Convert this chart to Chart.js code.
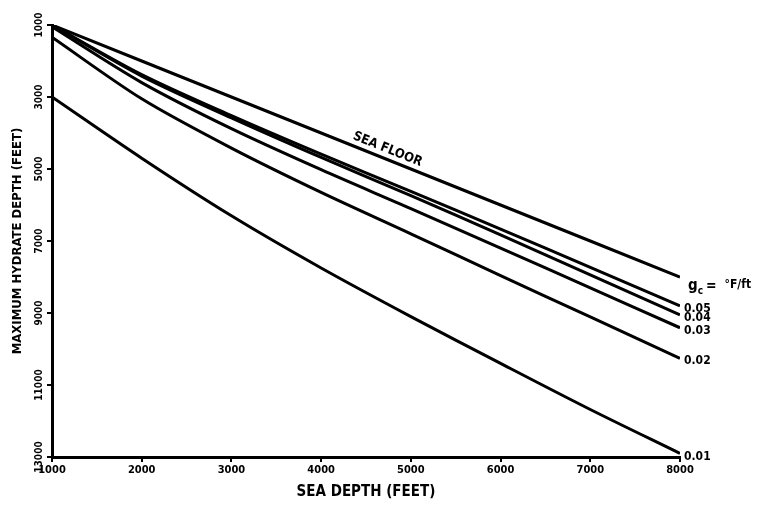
<!DOCTYPE html>
<html>
<head>
<meta charset="utf-8">
<script src="https://cdn.jsdelivr.net/npm/chart.js@4.4.1/dist/chart.umd.min.js"></script>
<style>
  html, body { margin: 0; padding: 0; background: #ffffff; }
  #wrap { width: 764px; height: 511px; }
</style>
</head>
<body>
<div id="wrap"><canvas id="c" width="764" height="511"></canvas></div>
<script>
// ---- data ----
const seaDepth = [1000, 2000, 3000, 4000, 5000, 6000, 7000, 8000];
const seaFloor = [1000, 2000, 3000, 4000, 5000, 6000, 7000, 8000];
const grad005  = [1000, 2380, 3520, 4590, 5620, 6670, 7730, 8800];
const grad004  = [1000, 2420, 3580, 4680, 5740, 6830, 7940, 9050];
const grad003  = [1050, 2600, 3880, 5020, 6100, 7200, 8300, 9410];
const grad002  = [1340, 3050, 4420, 5650, 6800, 7960, 9110, 10260];
const grad001  = [3000, 4700, 6300, 7750, 9100, 10400, 11680, 12900];
const lineLabels = ['', '0.05', '0.04', '0.03', '0.02', '0.01'];
const xTicks = [1000, 2000, 3000, 4000, 5000, 6000, 7000, 8000];
const yTicks = [1000, 3000, 5000, 7000, 9000, 11000, 13000];

const FONT = '"Liberation Sans Narrow", "DejaVu Sans Condensed", "Liberation Sans", sans-serif';

function pts(ys) { return seaDepth.map((x, i) => ({ x: x, y: ys[i] })); }
const series = [seaFloor, grad005, grad004, grad003, grad002, grad001];

const datasets = series.map((s, i) => ({
  label: lineLabels[i],
  data: pts(s),
  borderColor: '#000',
  borderWidth: 3,
  pointRadius: 0,
  fill: false,
  tension: i === 0 ? 0 : 0.3
}));

const annotate = {
  id: 'annotate',
  afterDraw(chart) {
    const ctx = chart.ctx;
    const xs = chart.scales.x, ys = chart.scales.y;
    ctx.save();
    ctx.fillStyle = '#000';
    // rotated y tick labels (reading bottom to top)
    ctx.font = 'bold 10px ' + FONT;
    ctx.textAlign = 'center';
    ctx.textBaseline = 'middle';
    ys.ticks.forEach(t => {
      const py = ys.getPixelForValue(t.value);
      ctx.save();
      ctx.translate(39, py);
      ctx.rotate(-Math.PI / 2);
      ctx.fillText(String(t.value), 0, 0);
      ctx.restore();
    });
    ctx.textBaseline = 'middle';
    ctx.textAlign = 'left';
    // end labels
    chart.data.datasets.forEach((ds, i) => {
      const meta = chart.getDatasetMeta(i);
      const p = meta.data[meta.data.length - 1];
      if (i === 0) {
        let x = p.x + 8, y = p.y + 9;
        ctx.font = 'bold 15px ' + FONT;
        ctx.fillText('g', x, y);
        let w = ctx.measureText('g').width;
        ctx.font = 'bold 10px ' + FONT;
        ctx.fillText('c', x + w, y + 5);
        w += ctx.measureText('c').width + 3;
        ctx.font = 'bold 14px ' + FONT;
        ctx.fillText('=', x + w, y);
        w += ctx.measureText('=').width + 8;
        ctx.font = 'bold 12px ' + FONT;
        ctx.fillText('\u00B0F/ft', x + w, y - 1);
      } else {
        ctx.font = 'bold 12px ' + FONT;
        ctx.fillText(ds.label, p.x + 4, p.y + 3);
      }
    });
    // SEA FLOOR label along the line
    const x1 = xs.getPixelForValue(1000), y1 = ys.getPixelForValue(1000);
    const x2 = xs.getPixelForValue(8000), y2 = ys.getPixelForValue(8000);
    const ang = Math.atan2(y2 - y1, x2 - x1);
    const v = 4700;
    const cx = xs.getPixelForValue(v), cy = ys.getPixelForValue(v);
    ctx.translate(cx, cy);
    ctx.rotate(ang);
    ctx.font = 'bold 13px ' + FONT;
    ctx.textAlign = 'center';
    ctx.textBaseline = 'bottom';
    ctx.fillText('SEA FLOOR', 0, -3);
    ctx.restore();
  }
};

new Chart(document.getElementById('c'), {
  type: 'line',
  data: { datasets: datasets },
  options: {
    responsive: false,
    animation: false,
    layout: { padding: { left: 0, right: 84, top: 25, bottom: 0 } },
    plugins: { legend: { display: false }, tooltip: { enabled: false } },
    scales: {
      x: {
        type: 'linear',
        min: 1000, max: 8000,
        afterBuildTicks(scale) { scale.ticks = xTicks.map(v => ({ value: v })); },
        afterFit(scale) { scale.height = 54; },
        border: { display: true, color: '#000', width: 3 },
        grid: { display: true, drawOnChartArea: false, drawTicks: true, tickLength: 5, color: '#000', lineWidth: 2 },
        ticks: { color: '#000', font: { family: FONT, size: 11, weight: 'bold' }, padding: 2, maxRotation: 0, minRotation: 0,
                 callback: v => String(v) },
        title: { display: true, text: 'SEA DEPTH (FEET)', color: '#000', font: { family: FONT, size: 15, weight: 'bold' }, padding: { top: 0, bottom: 10 } }
      },
      y: {
        type: 'linear',
        reverse: true,
        min: 1000, max: 13000,
        afterBuildTicks(scale) { scale.ticks = yTicks.map(v => ({ value: v })); },
        afterFit(scale) { scale.width = 52; },
        border: { display: true, color: '#000', width: 3 },
        grid: { display: true, drawOnChartArea: false, drawTicks: true, tickLength: 5, color: '#000', lineWidth: 2 },
        ticks: { color: 'rgba(0,0,0,0)', font: { family: FONT, size: 10, weight: 'bold' }, padding: 4,
                 callback: v => String(v) },
        title: { display: true, text: 'MAXIMUM HYDRATE DEPTH (FEET)', color: '#000', font: { family: FONT, size: 13, weight: 'bold' }, padding: { top: 10, bottom: 0 } }
      }
    }
  },
  plugins: [annotate]
});
</script>
</body>
</html>
